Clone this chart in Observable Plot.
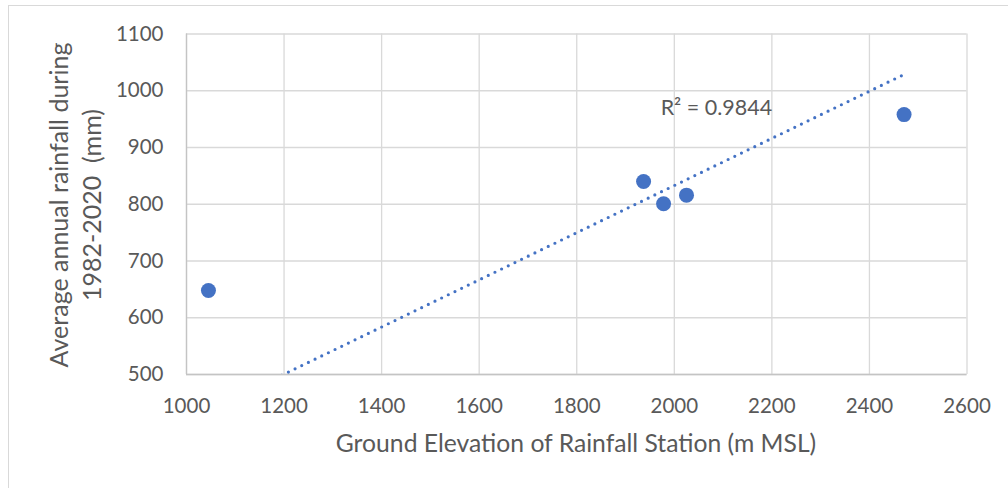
<!DOCTYPE html>
<html>
<head>
<meta charset="utf-8">
<script src="https://cdn.jsdelivr.net/npm/d3@7"></script>
<script src="https://cdn.jsdelivr.net/npm/@observablehq/plot@0.6"></script>
<style>
  html, body { margin: 0; padding: 0; background: #fff; }
  #wrap { position: relative; width: 1008px; height: 488px; overflow: hidden; }
  #border { position: absolute; left: 8px; top: 5px; width: 1100px; height: 600px;
            border-left: 1.3px solid #d9d9d9; border-top: 1.3px solid #d9d9d9; box-sizing: border-box; }
  #chart { position: absolute; left: 0; top: 0; }
</style>
</head>
<body>
<div id="wrap"><div id="border"></div><div id="chart"></div></div>
<script>
// Data
const elevation = [1045, 1937, 1978, 2025, 2471];   // m MSL
const rainfall  = [648, 840, 801, 816, 958];         // mm
const xTicks = [1000, 1200, 1400, 1600, 1800, 2000, 2200, 2400, 2600];
const yTicks = [500, 600, 700, 800, 900, 1000, 1100];
// Linear trendline shown on the chart (as drawn in the reference)
const trendSlope = 0.4155;
const trendIntercept = 2.0;
const trendRange = [1045, 2471];
const r2Label = ["R² = 0.9844"];
const r2Pos = [1972, 957];

const points = elevation.map((e, i) => ({x: e, y: rainfall[i]}));
const trend = trendRange.map(x => ({x, y: trendIntercept + trendSlope * x}));

const font = "Lato, 'Open Sans', sans-serif";
const textColor = "#595959";
const blue = "#4472C4";

const chart = Plot.plot({
  width: 1008,
  height: 488,
  marginLeft: 186,
  marginRight: 41.5,
  marginTop: 33.5,
  marginBottom: 114,
  style: {fontFamily: font, background: "transparent", color: textColor},
  x: {domain: [1000, 2600]},
  y: {domain: [500, 1100]},
  marks: [
    Plot.gridX(xTicks, {stroke: "#d9d9d9", strokeOpacity: 1, strokeWidth: 1.3}),
    Plot.gridY(yTicks, {stroke: "#d9d9d9", strokeOpacity: 1, strokeWidth: 1.3}),
    Plot.ruleX([1000], {stroke: "#c4c4c4", strokeWidth: 1.3}),
    Plot.ruleY([500], {stroke: "#c4c4c4", strokeWidth: 1.3}),
    Plot.axisX(xTicks, {tickSize: 0, tickPadding: 24, fontSize: 20.5, fill: textColor, label: null, tickFormat: d => String(d)}),
    Plot.axisY(yTicks, {tickSize: 0, tickPadding: 23, fontSize: 20.5, fill: textColor, label: null, tickFormat: d => String(d)}),
    Plot.line(trend, {x: "x", y: "y", stroke: blue, strokeWidth: 3.2, strokeDasharray: "0 7.4",
                      strokeLinecap: "round", clip: true}),
    Plot.dot(points, {x: "x", y: "y", r: 7.5, fill: blue, stroke: "none"}),
    Plot.text(r2Label, {x: () => r2Pos[0], y: () => r2Pos[1], text: d => d, textAnchor: "start",
                        lineAnchor: "bottom", fontSize: 21.5, fill: textColor})
  ]
});

const svg = d3.select(chart);
svg.append("text")
  .attr("x", 576).attr("y", 452)
  .attr("text-anchor", "middle")
  .attr("font-family", font).attr("font-size", 24.7).attr("fill", textColor)
  .text("Ground Elevation of Rainfall Station (m MSL)");

const yt = svg.append("text")
  .attr("transform", "translate(0,205) rotate(-90)")
  .attr("text-anchor", "middle")
  .attr("font-family", font).attr("font-size", 25).attr("fill", textColor);
yt.append("tspan").attr("x", 0).attr("y", 68).text("Average annual rainfall during");
yt.append("tspan").attr("x", 0).attr("y", 101).style("white-space", "pre").text("1982-2020  (mm)");

document.getElementById("chart").appendChild(chart);
</script>
</body>
</html>
